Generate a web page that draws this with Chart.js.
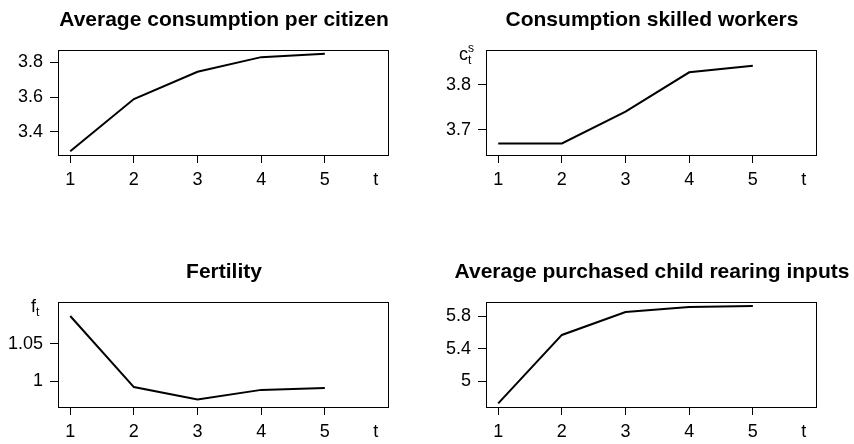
<!DOCTYPE html>
<html>
<head>
<meta charset="utf-8">
<script src="https://cdn.jsdelivr.net/npm/chart.js@4.4.0/dist/chart.umd.min.js"></script>
<style>
  body { margin: 0; background: #fff; width: 854px; height: 444px; position: relative; overflow: hidden; }
  canvas { position: absolute; }
</style>
</head>
<body>
<canvas id="p1" width="427" height="222" style="left:0;top:0"></canvas>
<canvas id="p2" width="427" height="222" style="left:427px;top:0"></canvas>
<canvas id="p3" width="427" height="222" style="left:0;top:222px"></canvas>
<canvas id="p4" width="427" height="222" style="left:427px;top:222px"></canvas>
<script>
// periods t and the x tick labels ("t" sits where a sixth tick would be)
const periods = [1, 2, 3, 4, 5];
const xTickValues = [1, 2, 3, 4, 5, 5.8];
const xTickLabels = ["1", "2", "3", "4", "5", "t"];

const avgConsumption = [3.289, 3.589, 3.746, 3.830, 3.849];
const skilledConsumption = [3.669, 3.669, 3.740, 3.828, 3.843];
const fertility = [1.0864, 0.9926, 0.9763, 0.9889, 0.9913];
const rearingInputs = [4.731, 5.571, 5.853, 5.914, 5.926];

const avgConsumptionTicks = ["3.4", "3.6", "3.8"];
const skilledConsumptionTicks = ["3.7", "3.8"];
const fertilityTicks = ["1", "1.05"];
const rearingInputsTicks = ["5", "5.4", "5.8"];

const FONT = "'Liberation Sans', Arial, Helvetica, sans-serif";

// titles, frame and the small y symbol in the corner, like base R graphics
const panelText = {
  id: "panelText",
  afterDraw(chart, args, opts) {
    const ctx = chart.ctx;
    const ca = chart.chartArea;
    ctx.save();
    ctx.strokeStyle = "#000";
    ctx.lineWidth = 1;
    ctx.strokeRect(Math.round(ca.left) + 0.5, Math.round(ca.top) + 0.5,
      Math.round(ca.width), Math.round(ca.height));

    ctx.fillStyle = "#000";
    ctx.font = "bold 21px " + FONT;
    ctx.textAlign = "center";
    ctx.textBaseline = "alphabetic";
    ctx.fillText(opts.title, (ca.left + ca.right) / 2 + 1, ca.top - 24);

    if (opts.sym) {
      const x = ca.left - 27;
      const y = ca.top + 10;
      ctx.textAlign = "left";
      ctx.font = "18px " + FONT;
      ctx.fillText(opts.sym, x, y);
      const w = ctx.measureText(opts.sym).width;
      ctx.font = "12px " + FONT;
      if (opts.sub)
        ctx.fillText(opts.sub, x + w, y + 4);
      if (opts.sup)
        ctx.fillText(opts.sup, x + w, y - 8);
    }
    ctx.restore();
  }
};

function makePanel(id, values, yTicks, yMin, yMax, text, top)
{
  const leftCol = id === "p1" || id === "p3";
  return new Chart(document.getElementById(id), {
    type: "line",
    data: {
      labels: periods,
      datasets: [{
        data: periods.map((t, i) => ({x: t, y: values[i]})),
        borderColor: "#000",
        borderWidth: 2,
        pointRadius: 0,
        tension: 0,
        fill: false,
      }],
    },
    plugins: [panelText],
    options: {
      responsive: false,
      animation: false,
      events: [],
      layout: {
        padding: {top: top ? 50 : 80, right: leftCol ? 39 : 38, left: 0, bottom: 0},
      },
      plugins: {
        legend: {display: false},
        tooltip: {enabled: false},
        panelText: text,
      },
      scales: {
        x: {
          type: "linear",
          min: 0.808,
          max: 5.992,
          afterBuildTicks: s => { s.ticks = xTickValues.map(v => ({value: v})); },
          afterFit: s => { s.height = top ? 67 : 37; },
          border: {display: false},
          grid: {
            drawOnChartArea: false,
            drawTicks: true,
            tickLength: 8,
            tickColor: c => (c.tick && c.tick.value > 5.5) ? "rgba(0,0,0,0)" : "#000",
          },
          ticks: {
            autoSkip: false,
            maxRotation: 0,
            padding: 6,
            color: "#000",
            font: {family: FONT, size: 18},
            callback: (v, i) => xTickLabels[i],
          },
        },
        y: {
          min: yMin,
          max: yMax,
          afterBuildTicks: s => { s.ticks = yTicks.map(v => ({value: parseFloat(v)})); },
          afterFit: s => { s.width = leftCol ? 58 : 59; },
          border: {display: false},
          grid: {
            drawOnChartArea: false,
            drawTicks: true,
            tickLength: 8,
            tickColor: "#000",
          },
          ticks: {
            padding: 7,
            color: "#000",
            font: {family: FONT, size: 18},
            callback: (v, i) => yTicks[i],
          },
        },
      },
    },
  });
}

makePanel("p1", avgConsumption, avgConsumptionTicks, 3.267, 3.871,
  {title: "Average consumption per citizen"}, true);
makePanel("p2", skilledConsumption, skilledConsumptionTicks, 3.643, 3.878,
  {title: "Consumption skilled workers", sym: "c", sub: "t", sup: "s"}, true);
makePanel("p3", fertility, fertilityTicks, 0.9663, 1.1049,
  {title: "Fertility", sym: "f", sub: "t"}, false);
makePanel("p4", rearingInputs, rearingInputsTicks, 4.687, 5.975,
  {title: "Average purchased child rearing inputs"}, false);
</script>
</body>
</html>
